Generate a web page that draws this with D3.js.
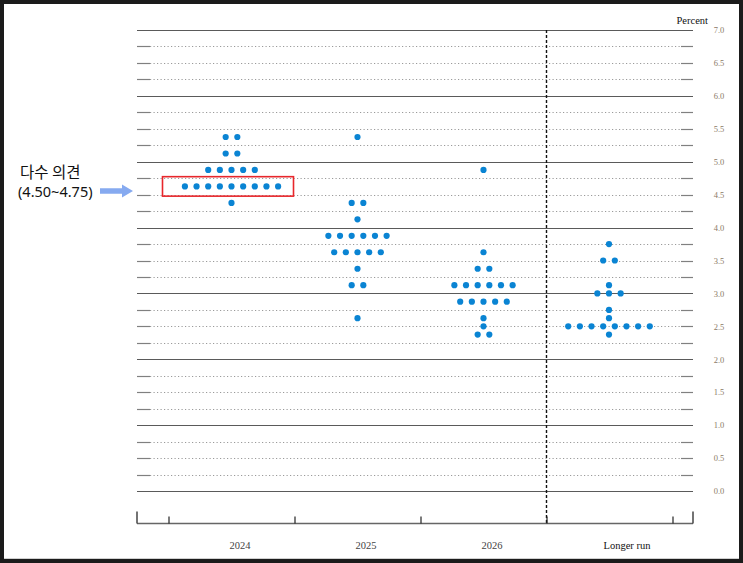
<!DOCTYPE html>
<html><head><meta charset="utf-8">
<script src="https://cdn.jsdelivr.net/npm/d3@7/dist/d3.min.js"></script>
<style>
html,body{margin:0;padding:0;background:#fff;}
svg{display:block;}
</style></head>
<body>
<svg id="chart" width="743" height="563"></svg>
<script>
// ---- data ----
const categories = ["2024", "2025", "2026", "Longer run"];
const rates2024 = [5.375, 5.125, 4.875, 4.625, 4.375];
const counts2024 = [2, 2, 5, 9, 1];
const rates2025 = [5.375, 4.375, 4.125, 3.875, 3.625, 3.375, 3.125, 2.625];
const counts2025 = [1, 2, 1, 6, 5, 1, 2, 1];
const rates2026 = [4.875, 3.625, 3.375, 3.125, 2.875, 2.625, 2.5, 2.375];
const counts2026 = [1, 1, 2, 6, 5, 1, 1, 2];
const ratesLonger = [3.75, 3.5, 3.125, 3.0, 2.75, 2.625, 2.5, 2.375];
const countsLonger = [1, 2, 1, 3, 1, 1, 8, 1];
const yTickLabels = ["0.0","0.5","1.0","1.5","2.0","2.5","3.0","3.5","4.0","4.5","5.0","5.5","6.0","6.5","7.0"];
const yUnit = "Percent";
const noteLine1 = "다수 의견";
const noteLine2 = "(4.50~4.75)";
const majorityLow = 4.5, majorityHigh = 4.75;

const series = [
  {cat: categories[0], rates: rates2024, counts: counts2024},
  {cat: categories[1], rates: rates2025, counts: counts2025},
  {cat: categories[2], rates: rates2026, counts: counts2026},
  {cat: categories[3], rates: ratesLonger, counts: countsLonger}
];

const svg = d3.select("#chart");
const W = 743, H = 563;

const y = d3.scaleLinear().domain([0, 7]).range([491, 30]);
const x = d3.scaleBand().domain(categories).range([169, 673]).padding(0);
const left = 137, right = 693;
const dotGap = 11.65;

// frame
svg.append("rect").attr("x",0).attr("y",0).attr("width",W).attr("height",H).attr("fill","#1b1b1b");
svg.append("rect").attr("x",4).attr("y",4).attr("width",W-8).attr("height",H-8).attr("fill","#fff");
svg.append("line").attr("x1",4).attr("x2",W-4).attr("y1",558.5).attr("y2",558.5).attr("stroke","#d0d0d0").attr("stroke-width",1);

// gridlines every 0.25
const gridVals = d3.range(0, 7.0001, 0.25);
const grid = svg.append("g");
gridVals.forEach(v => {
  const yy = Math.round(y(v)) + 0.5;
  const isMajor = Math.abs(v - Math.round(v)) < 1e-6;
  if (isMajor) {
    grid.append("line").attr("x1", left).attr("x2", right).attr("y1", yy).attr("y2", yy)
      .attr("stroke", "#5a5a5a").attr("stroke-width", 1.2);
  } else {
    grid.append("line").attr("x1", left + 13).attr("x2", right - 12).attr("y1", yy).attr("y2", yy)
      .attr("stroke", "#9a9a9a").attr("stroke-width", 1).attr("stroke-dasharray", "1.2,2.3");
    grid.append("line").attr("x1", left).attr("x2", left + 13).attr("y1", yy).attr("y2", yy)
      .attr("stroke", "#808080").attr("stroke-width", 1.2);
    grid.append("line").attr("x1", right - 12).attr("x2", right).attr("y1", yy).attr("y2", yy)
      .attr("stroke", "#808080").attr("stroke-width", 1.2);
  }
});

// right axis labels
const yAxis = d3.axisRight(y).tickValues(yTickLabels.map(Number)).tickFormat((d,i)=>yTickLabels[i]).tickSize(0).tickPadding(0);
const ya = svg.append("g").attr("transform", `translate(719,0)`).call(yAxis);
ya.select(".domain").remove();
ya.selectAll("text").attr("text-anchor","middle").attr("font-family","Liberation Serif, serif")
  .attr("font-size", 8.5).attr("fill", "#8b7a66").attr("dy","0.32em");

svg.append("text").attr("x", 708).attr("y", 24).attr("text-anchor","end")
  .attr("font-family","Liberation Serif, serif").attr("font-size", 10.5).attr("fill","#111").text(yUnit);

// vertical dashed divider
const divX = x(categories[3]) - 0.5;
svg.append("line").attr("x1", divX).attr("x2", divX).attr("y1", 30).attr("y2", 524)
  .attr("stroke","#111").attr("stroke-width",1.4).attr("stroke-dasharray","3,2");

// bottom axis
const axisY = 523.5;
svg.append("line").attr("x1", left).attr("x2", right).attr("y1", axisY).attr("y2", axisY)
  .attr("stroke","#666").attr("stroke-width",1.5);
const tickXs = categories.map(c => x(c)).concat([x.range()[1]]);
tickXs.forEach(tx => {
  svg.append("line").attr("x1", tx).attr("x2", tx).attr("y1", axisY - 7).attr("y2", axisY)
    .attr("stroke","#222").attr("stroke-width",1.2);
});
[left, right].forEach(tx => {
  svg.append("line").attr("x1", tx).attr("x2", tx).attr("y1", axisY - 12).attr("y2", axisY)
    .attr("stroke","#444").attr("stroke-width",1.5);
});
svg.selectAll(".xlab").data(categories).enter().append("text")
  .attr("class","xlab")
  .attr("x", d => x(d) + x.bandwidth()/2 + (d === categories[3] ? 17 : 8))
  .attr("y", 549)
  .attr("text-anchor","middle")
  .attr("font-family","Liberation Serif, serif")
  .attr("font-size", 10.5)
  .attr("fill", d => d === categories[3] ? "#111" : "#444")
  .text(d => d);

// dots
const dots = [];
series.forEach(s => {
  const cx = x(s.cat) + x.bandwidth()/2 - (s.cat === categories[3] ? 1 : 0.5);
  s.rates.forEach((r, i) => {
    const n = s.counts[i];
    for (let k = 0; k < n; k++) {
      dots.push({x: cx + (k - (n - 1) / 2) * dotGap, v: r});
    }
  });
});
svg.append("g").selectAll("circle").data(dots).enter().append("circle")
  .attr("cx", d => d.x).attr("cy", d => y(d.v)).attr("r", 3.1).attr("fill", "#0a84d3");

// annotation: red box around majority
svg.append("rect").attr("x", 162.5).attr("y", y(majorityHigh) - 1.5)
  .attr("width", 131).attr("height", y(majorityLow) - y(majorityHigh) + 3)
  .attr("fill","none").attr("stroke","#e8262b").attr("stroke-width",1.6);

svg.append("text").attr("x", 20).attr("y", 178).attr("font-family","Noto Sans CJK KR, sans-serif")
  .attr("font-size", 15.5).attr("fill","#111").text(noteLine1);
svg.append("text").attr("x", 18).attr("y", 197).attr("font-family","Noto Sans, sans-serif")
  .attr("font-size", 14.5).attr("fill","#111").text(noteLine2);

// arrow
const ay = 191;
svg.append("path")
  .attr("d", `M100,${ay-2.8} L122,${ay-2.8} L122,${ay-6.5} L133,${ay} L122,${ay+6.5} L122,${ay+2.8} L100,${ay+2.8} Z`)
  .attr("fill","#86aaf0");
</script>
</body></html>
